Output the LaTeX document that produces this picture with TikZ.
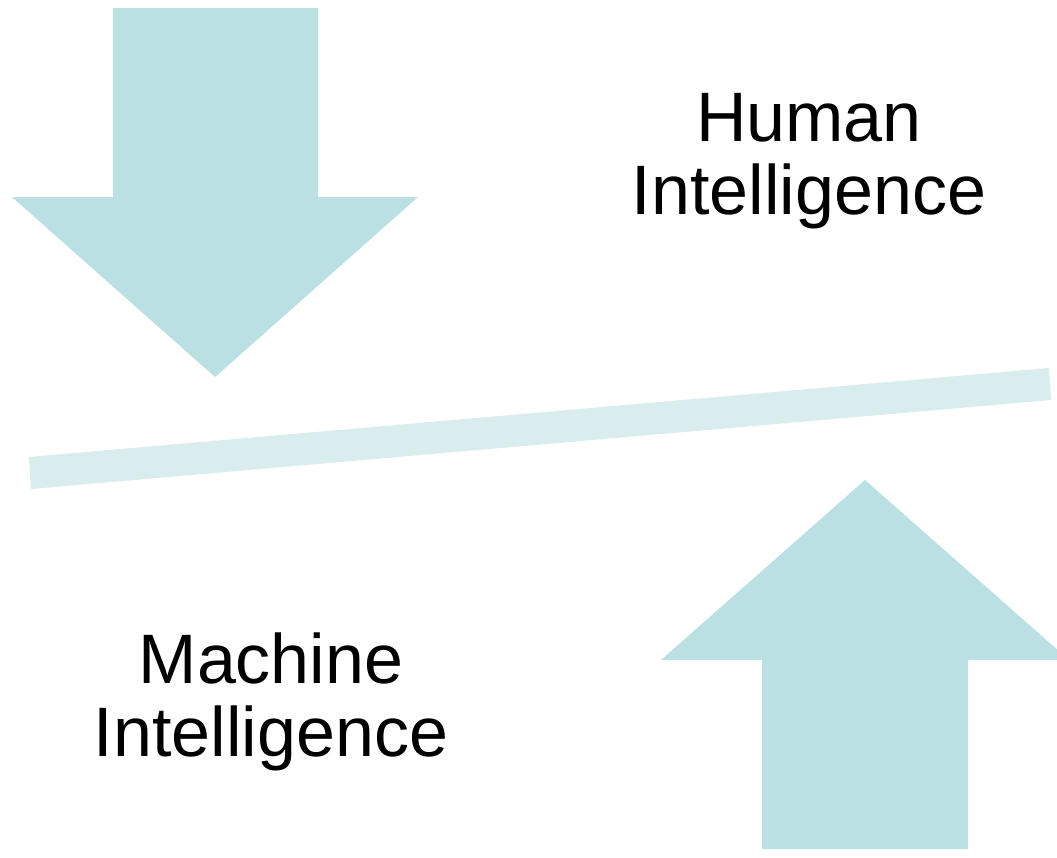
\documentclass[tikz,border=0pt]{standalone}
\usepackage{fontspec}
\setmainfont{Liberation Sans}
\definecolor{arrowcol}{HTML}{BAE0E3}
\definecolor{barcol}{HTML}{D9ECEE}
\begin{document}
\begin{tikzpicture}[x=1pt,y=-1pt,
  arrowshape/.style={fill=arrowcol,draw=none},
  barshape/.style={fill=barcol,draw=none},
  label/.style={font=\fontsize{70}{73}\selectfont,align=center,inner sep=0pt,anchor=base}]
\useasboundingbox (0,0) rectangle (1057,857);
\clip (0,0) rectangle (1057,857);
\fill[white] (0,0) rectangle (1057,857);
% down arrow
\path[arrowshape] (113,8) -- (318,8) -- (318,197) -- (418,197) -- (215,377) -- (12,197) -- (113,197) -- cycle;
% up arrow
\path[arrowshape] (762,849) -- (968,849) -- (968,660) -- (1069,660) -- (865,480) -- (661,660) -- (762,660) -- cycle;
% bar
\path[barshape] (29,457) -- (31,489) -- (1051,400) -- (1049,368) -- cycle;
\node[label] (human) at (809,214) {Human\\Intelligence};
\node[label] (machine) at (271,756) {Machine\\Intelligence};
\end{tikzpicture}
\end{document}
